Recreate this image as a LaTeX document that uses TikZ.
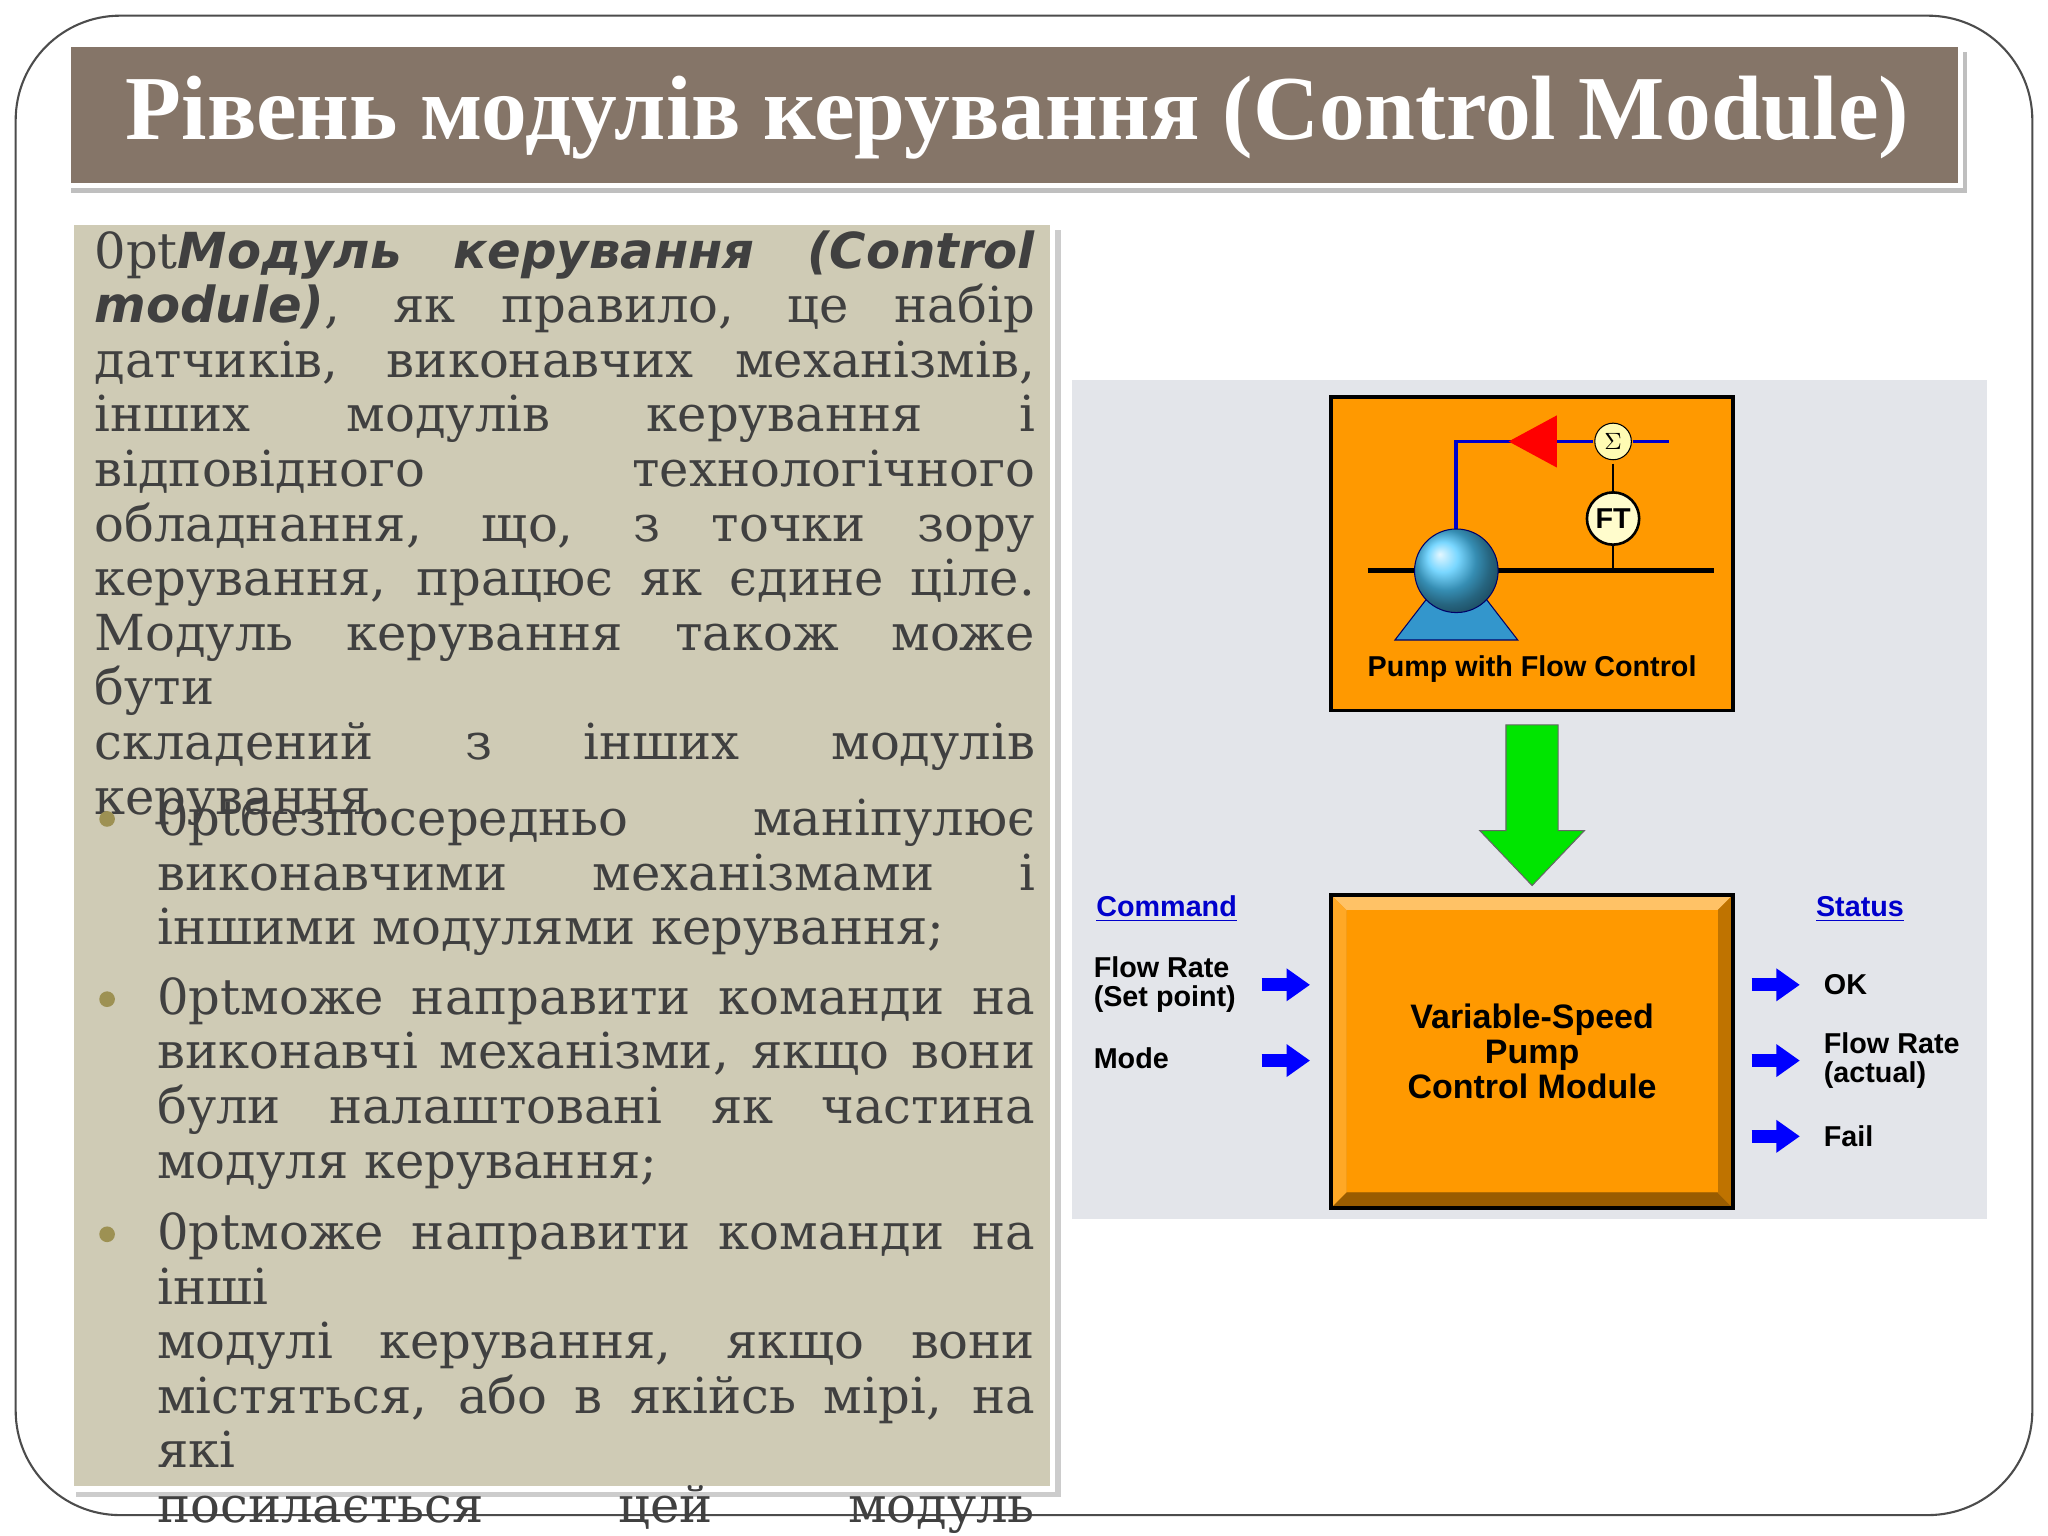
\documentclass[tikz,border=0pt]{standalone}
\usepackage{fontspec}
\setmainfont{DejaVu Serif}
\newfontfamily\titlefont{Liberation Serif}
\newfontfamily\dsans{DejaVu Sans}
\newfontfamily\lsans{Liberation Sans}
\usetikzlibrary{arrows.meta,shapes.geometric}
\definecolor{band}{HTML}{857568}
\definecolor{panel}{HTML}{CFCBB5}
\definecolor{diag}{HTML}{E3E5EA}
\definecolor{org}{HTML}{FF9900}
\definecolor{txt}{HTML}{404040}
\tikzset{
 bodytxt/.style={anchor=north west,inner sep=0,text width=360pt,align=justify,font=\fontsize{19}{20.9}\selectfont\hyphenpenalty=10000\emergencystretch=20pt,text=txt},
 lab/.style={font=\lsans\bfseries\fontsize{11}{11}\selectfont,align=left,inner sep=0},
 barrow/.style={blue,line width=5pt,-{Triangle[length=9pt,width=12pt]}},
 bul/.style={circle,fill=band!80!yellow,inner sep=0,minimum size=6pt}
}
\begin{document}
\begin{tikzpicture}[x=0.5pt,y=-0.5pt]
\useasboundingbox (0,0) rectangle (1568,1176);
\fill[white] (0,0) rectangle (1568,1176);
\draw[black!70,line width=0.8pt,rounded corners=40] (12,12) rectangle (1556,1160);
% title
\fill[black!25] (54,40) rectangle (1506,148);
\draw[white,line width=2pt,fill=band] (52,34) rectangle (1501,142);
\node[font=\titlefont\bfseries\fontsize{35}{35}\selectfont,text=white] (title) at (779,90) {Рівень модулів керування (Control Module)};
% left panel
\fill[black!20] (58,176) rectangle (812,1146);
\draw[white,line width=2pt,fill=panel] (55,170) rectangle (806,1140);
\node[bodytxt] (p1) at (72,176) {{\dsans\bfseries\itshape Модуль керування (Control\linebreak module)}, як правило, це набір\linebreak датчиків, виконавчих механізмів,\linebreak інших модулів керування і\linebreak відповідного технологічного\linebreak обладнання, що, з точки зору\linebreak керування, працює як єдине ціле.\linebreak Модуль керування також може бути\linebreak складений з інших модулів\linebreak керування.};
\node[bodytxt,text width=336pt] (b1) at (120,610) {безпосередньо маніпулює\linebreak виконавчими механізмами і\linebreak іншими модулями керування;};
\node[bodytxt,text width=336pt] (b2) at (120,748) {може направити команди на\linebreak виконавчі механізми, якщо вони\linebreak були налаштовані як частина\linebreak модуля керування;};
\node[bodytxt,text width=336pt] (b3) at (120,928) {може направити команди на інші\linebreak модулі керування, якщо вони\linebreak містяться, або в якійсь мірі, на які\linebreak посилається цей модуль\linebreak керування.};
\node[bul] at (82,627) {}; \node[bul] at (82,765) {}; \node[bul] at (82,945) {};
% diagram
\fill[diag] (821,291) rectangle (1521,933);
\draw[line width=1.5pt,fill=org] (1019,304) rectangle (1327,544);
\draw[black,line width=2pt] (1047,437) -- (1312,437);
\draw[blue!80!black,line width=1.5pt] (1115,410) -- (1115,338) -- (1160,338);
\draw[blue!80!black,line width=1.5pt] (1250,338) -- (1278,338);
\draw[black,line width=1pt] (1235,355) -- (1235,380);
\draw[black,line width=1pt] (1235,415) -- (1235,437);
\fill[red] (1155,338) -- (1192,318) -- (1192,358) -- cycle;
\draw[blue!80!black,line width=1.5pt] (1192,338) -- (1220,338);
\node[circle,draw,fill=yellow!30,inner sep=0,minimum size=14pt,font=\fontsize{9}{9}\selectfont] (sig) at (1235,338) {$\Sigma$};
\node[circle,draw,line width=1pt,fill=yellow!20,inner sep=0,minimum size=20pt,font=\lsans\bfseries\fontsize{11}{11}\selectfont] (ft) at (1235,397) {FT};
\draw[blue!40!black,fill=blue!35!cyan!60!gray] (1068,490) -- (1095,455) -- (1135,455) -- (1162,490) -- cycle;
\shade[ball color=blue!30!cyan!70!white] (1115,437) circle (32);
\draw[blue!40!black] (1115,437) circle (32);
\node[font=\lsans\bfseries\fontsize{11}{11}\selectfont] (pl) at (1173,512) {Pump with Flow Control};
% green arrow
\draw[black!60,fill=green!90!black] (1153,555) -- (1193,555) -- (1193,636) -- (1213,636) -- (1173,678) -- (1133,636) -- (1153,636) -- cycle;
% module box
\fill[org!90!black] (1019,685) rectangle (1327,925);
\fill[org!60!white] (1019,685) -- (1327,685) -- (1315,697) -- (1031,697) -- cycle;
\fill[org!85!white] (1019,685) -- (1031,697) -- (1031,913) -- (1019,925) -- cycle;
\fill[org!60!black] (1019,925) -- (1031,913) -- (1315,913) -- (1327,925) -- cycle;
\fill[org!75!black] (1327,685) -- (1315,697) -- (1315,913) -- (1327,925) -- cycle;
\fill[org] (1031,697) rectangle (1315,913);
\draw[line width=1.5pt] (1019,685) rectangle (1327,925);
\node[font=\lsans\bfseries\fontsize{13}{13.5}\selectfont,align=center] (vm) at (1173,805) {Variable-Speed\\Pump\\Control Module};
% labels
\node[lab,text=blue!80!black,anchor=west] (cmd) at (839,696) {\underline{Command}};
\node[lab,text=blue!80!black,anchor=west] (st) at (1390,696) {\underline{Status}};
\node[lab,anchor=west] (fr) at (837,754) {Flow Rate\\(Set point)};
\node[lab,anchor=west] (md) at (837,810) {Mode};
\node[lab,anchor=west] (ok) at (1396,754) {OK};
\node[lab,anchor=west] (fa) at (1396,812) {Flow Rate\\(actual)};
\node[lab,anchor=west] (fl) at (1396,870) {Fail};
\coordinate (a1) at (966,754); \coordinate (a1e) at (1003,754);
\coordinate (a2) at (966,812); \coordinate (a2e) at (1003,812);
\coordinate (a3) at (1341,754); \coordinate (a3e) at (1378,754);
\coordinate (a4) at (1341,812); \coordinate (a4e) at (1378,812);
\coordinate (a5) at (1341,870); \coordinate (a5e) at (1378,870);
\foreach \s/\e in {a1/a1e,a2/a2e,a3/a3e,a4/a4e,a5/a5e} \draw[barrow] (\s) -- (\e);
\end{tikzpicture}
\end{document}
